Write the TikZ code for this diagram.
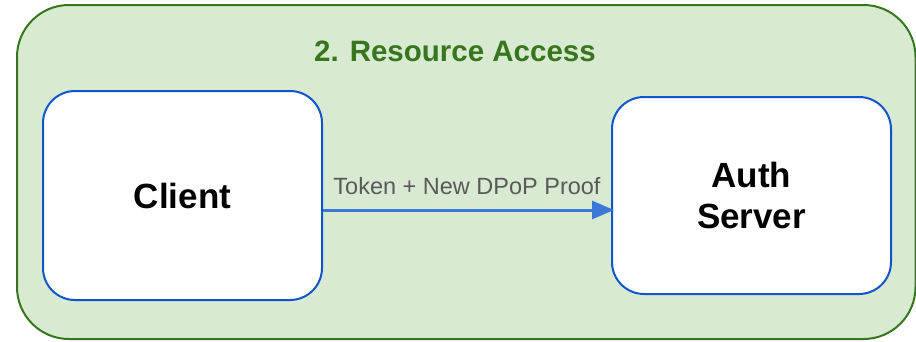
\documentclass[tikz,border=0pt]{standalone}
\usepackage{fontspec}
\setmainfont{Liberation Sans}
\usetikzlibrary{arrows.meta}
\definecolor{grpfill}{HTML}{D9EAD3}
\definecolor{grpline}{HTML}{38761D}
\definecolor{boxline}{HTML}{1155CC}
\definecolor{arrowc}{HTML}{3C78D8}
\definecolor{labelc}{HTML}{595959}
\tikzset{
  group/.style={draw=grpline, fill=grpfill, line width=2pt, rounded corners=52pt},
  actor/.style={draw=boxline, fill=white, line width=2pt, rounded corners=32pt, font=\fontsize{35}{42}\selectfont\bfseries, align=center},
  flow/.style={draw=arrowc, line width=3pt, -{Triangle[length=22pt,width=18pt]}},
}
\begin{document}
\begin{tikzpicture}[x=1pt,y=-1pt]
\useasboundingbox (0,0) rectangle (916,341);
\draw[group] (17,5) rectangle (915.5,339);
\node[text=grpline, font=\fontsize{29.5}{34}\selectfont\bfseries] (title) at (455,51) {2. Resource Access};
\node[actor, minimum width=279pt, minimum height=209pt] (client) at (182.5,195.5) {Client};
\node[actor, minimum width=279pt, minimum height=197pt] (auth) at (751.5,195.5) {Auth\\[-1pt]Server};
\coordinate (s) at (client.east |- 0,210);
\coordinate (e) at (auth.west |- 0,210);
\draw[flow, shorten >=-3pt] (s) -- (e) node[midway, above=10pt, text=labelc, font=\fontsize{23.5}{28}\selectfont] (lbl) {Token + New DPoP Proof};
\end{tikzpicture}
\end{document}
